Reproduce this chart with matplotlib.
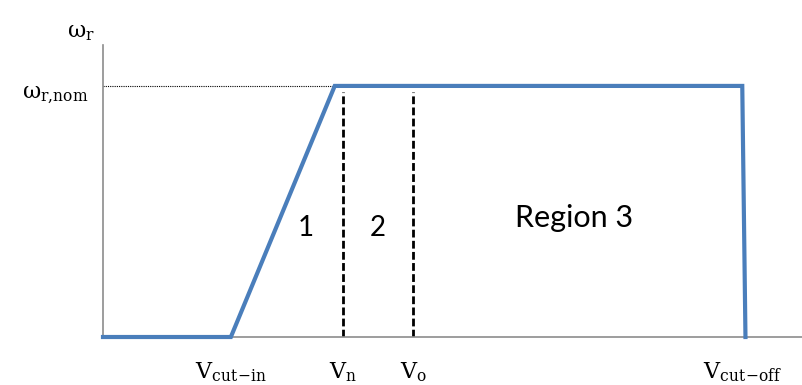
import matplotlib.pyplot as plt

plt.rcParams['mathtext.fontset'] = 'dejavuserif'

# wind speeds (m/s) and normalised rotor speed
v_cut_in = 4.0
v_knee = 7.25
v_n = 7.5
v_o = 9.7
v_cut_off = 20.0
v_end = 20.1
v_max = 21.9

speed_v = [0.0, v_cut_in, v_knee, v_cut_off, v_end]
speed_w = [0.0, 0.0, 1.0, 1.0, 0.0]
w_nom = 1.0
w_top = 1.163

tick_pos = [v_cut_in, v_n, v_o, v_cut_off]
tick_txt = [r'$\mathrm{V_{cut\!-\!in}}$', r'$\mathrm{V_n}$', r'$\mathrm{V_o}$',
            r'$\mathrm{V_{cut\!-\!off}}$']

fig = plt.figure(figsize=(8.03, 3.85), dpi=100)
ax = fig.add_axes([103 / 803, 48 / 385, 700 / 803, 292 / 385])

ax.plot(speed_v, speed_w, color='#4a7ebb', lw=3, solid_joinstyle='miter', clip_on=False, zorder=3)

# region borders
for v in [v_n, v_o]:
    ax.plot([v, v], [0, w_nom - 0.025], color='black', lw=2, ls=(0, (2.8, 1.2)), zorder=2)

# guide at nominal speed
ax.plot([0, v_knee], [w_nom, w_nom], color='black', lw=0.8, ls=(0, (1, 1)), zorder=2)

ax.text(6.35, 0.435, '1', fontsize=20, family='Lato', ha='center', va='center')
ax.text(8.6, 0.435, '2', fontsize=20, family='Lato', ha='center', va='center')
ax.text(14.75, 0.475, 'Region 3', fontsize=22, family='Lato', ha='center', va='center')

ax.set_xlim(0, v_max)
ax.set_ylim(0, w_top)
ax.set_xticks(tick_pos, tick_txt, fontsize=16)
ax.set_yticks([])
ax.tick_params(length=0)
ax.tick_params(axis='x', pad=17)
ax.text(-0.45, 0.965, r'$\mathrm{\omega_{r{,}nom}}$', fontsize=16, ha='right', va='center')
ax.text(-0.7, 1.21, r'$\mathrm{\omega_r}$', fontsize=16, ha='center', va='center')

for side in ['top', 'right']:
    ax.spines[side].set_visible(False)
for side in ['left', 'bottom']:
    ax.spines[side].set_color('#8c8c8c')
    ax.spines[side].set_linewidth(1.2)

plt.savefig('out.png', dpi=100)
